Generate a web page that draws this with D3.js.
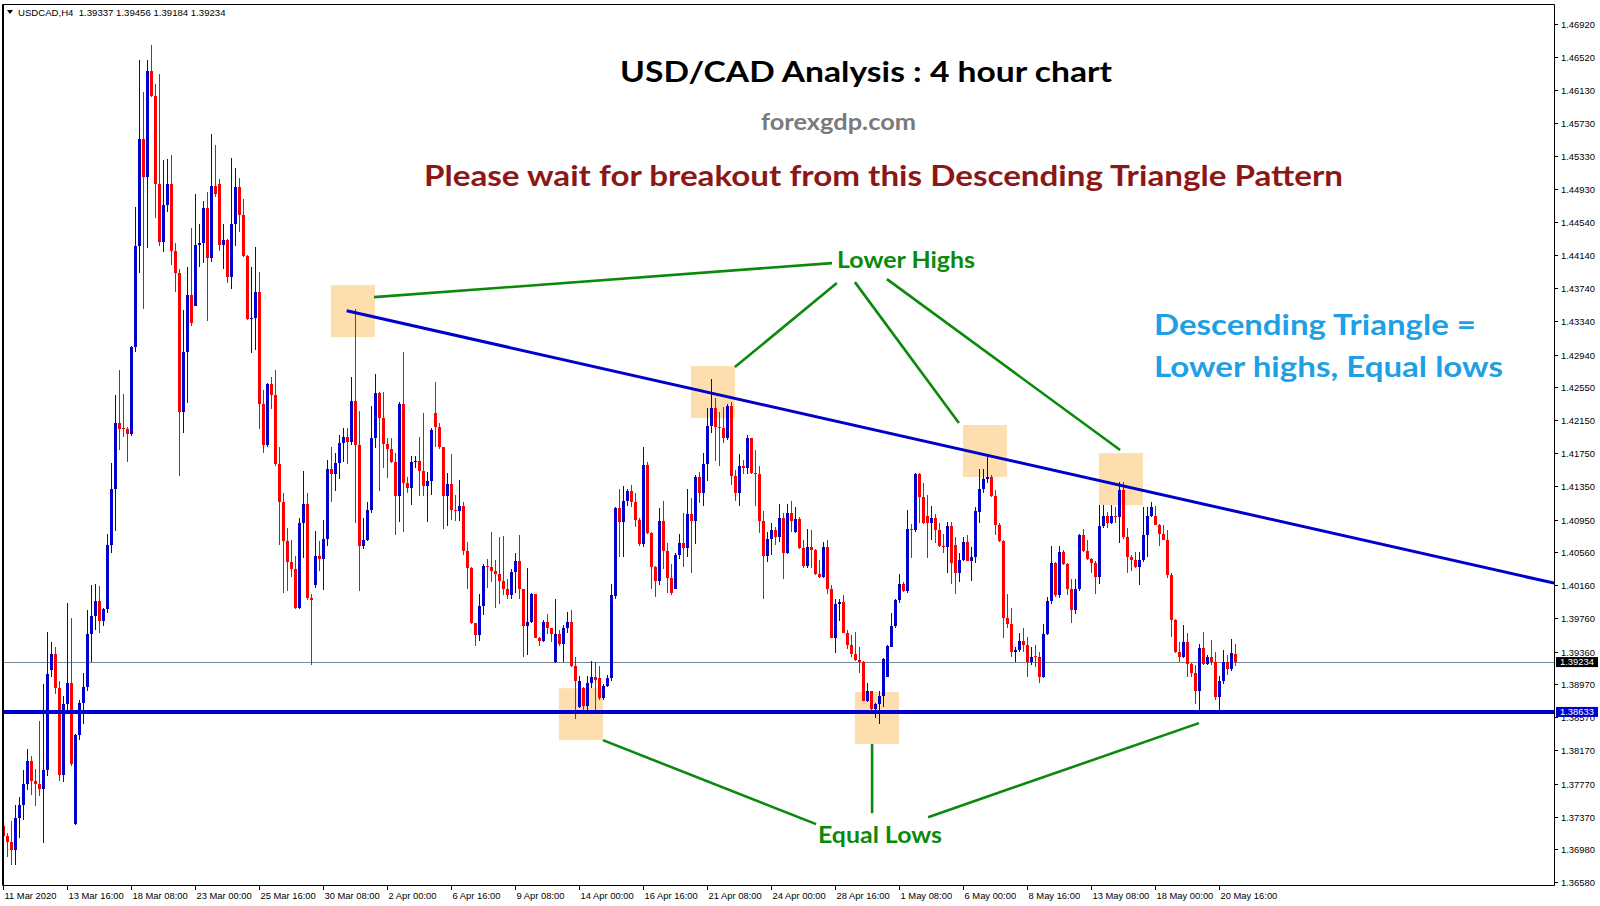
<!DOCTYPE html>
<html><head><meta charset="utf-8">
<script src="https://cdnjs.cloudflare.com/ajax/libs/d3/7.8.5/d3.min.js"></script>
<style>body{margin:0;background:#fff}svg{display:block}</style>
</head><body><svg id="c" width="1600" height="906"></svg>
<script>
// ---------- DATA (USDCAD H4, 11 Mar 2020 00:00 onward, one value per 4h bar) ----------
const symbolInfo = "USDCAD,H4";
const opens = [
1.3726,1.3714,1.3706,1.3697,1.3736,1.3751,1.3777,1.3804,1.3780,1.3776,
1.3770,1.3793,1.3914,1.3933,1.3892,1.3787,1.3873,1.3898,1.3728,1.3836,
1.3874,1.3893,1.3957,1.3979,1.3997,1.3973,1.3987,1.4064,1.4132,1.4211,
1.4206,1.4204,1.4198,1.4303,1.4425,1.4554,1.4508,1.4636,1.4605,1.4500,
1.4430,1.4474,1.4499,1.4419,1.4392,1.4225,1.4297,1.4366,1.4353,1.4426,
1.4428,1.4471,1.4410,1.4497,1.4500,1.4426,1.4432,1.4388,1.4451,1.4496,
1.4462,1.4413,1.4337,1.4338,1.4369,1.4235,1.4185,1.4259,1.4245,1.4162,
1.4116,1.4069,1.4044,1.4036,1.3988,1.4091,1.4114,1.4001,1.4016,1.4051,
1.4048,1.4072,1.4156,1.4150,1.4163,1.4188,1.4195,1.4189,1.4238,1.4185,
1.4063,1.4070,1.4107,1.4193,1.4248,1.4217,1.4186,1.4180,1.4164,1.4123,
1.4235,1.4139,1.4133,1.4164,1.4166,1.4154,1.4135,1.4142,1.4223,1.4207,
1.4182,1.4124,1.4138,1.4107,1.4106,1.4112,1.4057,1.4037,1.3970,1.3956,
1.3991,1.4039,1.4038,1.4033,1.4029,1.4021,1.4011,1.4004,1.4032,1.4045,
1.4011,1.3967,1.3972,1.4005,1.3953,1.3949,1.3972,1.3964,1.3923,1.3957,
1.3945,1.3964,1.3972,1.3919,1.3869,1.3892,1.3870,1.3898,1.3906,1.3904,
1.3880,1.3894,1.3904,1.4003,1.4109,1.4092,1.4117,1.4129,1.4116,1.4095,
1.4066,1.4161,1.4079,1.4038,1.4021,1.4093,1.4057,1.4025,1.4012,1.4053,
1.4067,1.4061,1.4102,1.4093,1.4147,1.4127,1.4162,1.4208,1.4230,1.4207,
1.4206,1.4193,1.4232,1.4148,1.4127,1.4160,1.4157,1.4193,1.4151,1.4150,
1.4093,1.4051,1.4072,1.4082,1.4074,1.4097,1.4055,1.4103,1.4080,1.4096,
1.4061,1.4039,1.4062,1.4058,1.4029,1.4026,1.4062,1.4011,1.3953,1.3993,
1.3996,1.3958,1.3944,1.3933,1.3926,1.3924,1.3876,1.3888,1.3867,1.3873,
1.3882,1.3906,1.3942,1.3967,1.3998,1.4018,1.4009,1.4084,1.4082,1.4150,
1.4122,1.4100,1.4091,1.4097,1.4082,1.4063,1.4062,1.4087,1.4064,1.4031,
1.4047,1.4068,1.4045,1.4050,1.4104,1.4132,1.4144,1.4147,1.4124,1.4089,
1.4069,1.3977,1.3969,1.3936,1.3938,1.3949,1.3944,1.3923,1.3931,1.3929,
1.3905,1.3957,1.3997,1.4043,1.4004,1.4056,1.4041,1.4011,1.3986,1.4012,
1.4076,1.4057,1.4048,1.4043,1.4026,1.4087,1.4099,1.4091,1.4100,1.4098,
1.4131,1.4074,1.4050,1.4047,1.4038,1.4047,1.4076,1.4100,1.4099,1.4089,
1.4078,1.4071,1.4028,1.3974,1.3936,1.3929,1.3948,1.3921,1.3910,1.3888,
1.3940,1.3921,1.3929,1.3924,1.3881,1.3901,1.3924,1.3915,1.39337];
const highs = [
1.3745,1.3717,1.3732,1.3751,1.3761,1.3793,1.3819,1.3810,1.3794,1.3852,
1.3897,1.3960,1.3947,1.3942,1.3901,1.3883,1.3994,1.3977,1.3837,1.3878,
1.3910,1.3986,1.4016,1.4018,1.4015,1.3988,1.4078,1.4163,1.4245,1.4275,
1.4247,1.4207,1.4304,1.4472,1.4649,1.4610,1.4649,1.4667,1.4620,1.4632,
1.4528,1.4530,1.4535,1.4429,1.4397,1.4348,1.4400,1.4446,1.4487,1.4451,
1.4479,1.4490,1.4560,1.4546,1.4505,1.4451,1.4433,1.4531,1.4519,1.4507,
1.4481,1.4414,1.4399,1.4424,1.4394,1.4251,1.4260,1.4267,1.4275,1.4182,
1.4127,1.4085,1.4070,1.4051,1.4097,1.4154,1.4127,1.4006,1.4081,1.4069,
1.4095,1.4167,1.4182,1.4175,1.4197,1.4206,1.4205,1.4267,1.4349,1.4226,
1.4097,1.4116,1.4232,1.4270,1.4249,1.4249,1.4194,1.4194,1.4175,1.4237,
1.4297,1.4147,1.4172,1.4172,1.4195,1.4224,1.4153,1.4205,1.4261,1.4211,
1.4183,1.4151,1.4174,1.4125,1.4143,1.4116,1.4068,1.4038,1.3971,1.4006,
1.4041,1.4048,1.4080,1.4047,1.4074,1.4075,1.4024,1.4036,1.4055,1.4076,
1.4012,1.4037,1.4007,1.4006,1.3954,1.3974,1.3981,1.3965,1.3999,1.3962,
1.3968,1.3984,1.3986,1.3930,1.3907,1.3893,1.3907,1.3925,1.3923,1.3919,
1.3897,1.3908,1.4017,1.4110,1.4132,1.4136,1.4132,1.4137,1.4127,1.4097,
1.4182,1.4165,1.4080,1.4039,1.4109,1.4117,1.4067,1.4041,1.4055,1.4078,
1.4103,1.4132,1.4121,1.4149,1.4152,1.4175,1.4230,1.4265,1.4242,1.4225,
1.4231,1.4234,1.4237,1.4155,1.4174,1.4167,1.4197,1.4194,1.4179,1.4160,
1.4106,1.4080,1.4091,1.4086,1.4114,1.4103,1.4114,1.4118,1.4110,1.4098,
1.4070,1.4084,1.4082,1.4060,1.4047,1.4068,1.4070,1.4016,1.4000,1.3999,
1.4004,1.3962,1.3956,1.3960,1.3942,1.3925,1.3898,1.3889,1.3874,1.3889,
1.3928,1.3944,1.3982,1.3999,1.4030,1.4020,1.4107,1.4090,1.4151,1.4151,
1.4139,1.4125,1.4111,1.4102,1.4091,1.4078,1.4092,1.4092,1.4074,1.4055,
1.4074,1.4076,1.4062,1.4110,1.4156,1.4156,1.4173,1.4149,1.4131,1.4091,
1.4070,1.4005,1.3988,1.3942,1.3958,1.3964,1.3954,1.3942,1.3944,1.3935,
1.3969,1.4002,1.4063,1.4044,1.4063,1.4058,1.4043,1.4023,1.4024,1.4078,
1.4084,1.4070,1.4049,1.4045,1.4113,1.4113,1.4104,1.4113,1.4110,1.4140,
1.4141,1.4085,1.4053,1.4056,1.4056,1.4110,1.4110,1.4116,1.4111,1.4090,
1.4088,1.4082,1.4031,1.3975,1.3948,1.3968,1.3958,1.3922,1.3920,1.3945,
1.3960,1.3932,1.3950,1.3935,1.3907,1.3938,1.3932,1.3951,1.39456];
const lows = [
1.3702,1.3688,1.3679,1.3679,1.3711,1.3733,1.3769,1.3763,1.3750,1.3762,
1.3705,1.3786,1.3906,1.3885,1.3780,1.3779,1.3862,1.3798,1.3727,1.3830,
1.3849,1.3889,1.3924,1.3962,1.3958,1.3967,1.3982,1.4055,1.4081,1.4179,
1.4195,1.4164,1.4196,1.4297,1.4392,1.4349,1.4422,1.4604,1.4459,1.4425,
1.4417,1.4466,1.4402,1.4369,1.4148,1.4199,1.4236,1.4329,1.4352,1.4399,
1.4404,1.4334,1.4405,1.4484,1.4419,1.4397,1.4380,1.4373,1.4425,1.4442,
1.4411,1.4336,1.4296,1.4299,1.4204,1.4175,1.4182,1.4228,1.4160,1.4064,
1.4007,1.4009,1.4026,1.3987,1.3987,1.4049,1.3998,1.3920,1.4013,1.4033,
1.4010,1.4063,1.4116,1.4129,1.4144,1.4164,1.4162,1.4185,1.4091,1.4009,
1.4060,1.4069,1.4103,1.4181,1.4130,1.4157,1.4145,1.4163,1.4076,1.4092,
1.4080,1.4127,1.4113,1.4157,1.4123,1.4123,1.4092,1.4125,1.4182,1.4180,
1.4084,1.4087,1.4095,1.4093,1.4094,1.4052,1.4011,1.3969,1.3943,1.3949,
1.3980,1.4013,1.4020,1.3989,1.3993,1.4004,1.3999,1.4000,1.4007,1.4000,
1.3930,1.3932,1.3970,1.3952,1.3943,1.3948,1.3957,1.3947,1.3922,1.3943,
1.3923,1.3958,1.3917,1.3855,1.3868,1.3866,1.3866,1.3892,1.3866,1.3878,
1.3878,1.3893,1.3901,1.4000,1.4050,1.4050,1.4111,1.4110,1.4086,1.4063,
1.4062,1.4078,1.4012,1.4002,1.4016,1.4036,1.4007,1.4004,1.4011,1.4048,
1.4038,1.4050,1.4031,1.4066,1.4115,1.4111,1.4142,1.4199,1.4166,1.4160,
1.4187,1.4191,1.4137,1.4118,1.4112,1.4150,1.4150,1.4150,1.4112,1.4079,
1.3999,1.4044,1.4052,1.4064,1.4068,1.4023,1.4054,1.4080,1.4079,1.4060,
1.4037,1.4037,1.4037,1.4028,1.4025,1.4025,1.4006,1.3952,1.3934,1.3973,
1.3958,1.3939,1.3930,1.3925,1.3910,1.3876,1.3875,1.3863,1.3856,1.3849,
1.3869,1.3905,1.3941,1.3964,1.3995,1.4008,1.4007,1.4049,1.4080,1.4091,
1.4090,1.4049,1.4070,1.4067,1.4062,1.4055,1.4031,1.4017,1.4006,1.4020,
1.4045,1.4045,1.4021,1.4043,1.4091,1.4127,1.4139,1.4122,1.4076,1.4068,
1.3953,1.3964,1.3930,1.3923,1.3936,1.3935,1.3906,1.3920,1.3917,1.3898,
1.3904,1.3956,1.3993,1.4002,1.4001,1.4040,1.4004,1.3970,1.3981,1.4009,
1.4056,1.4046,1.4031,1.4005,1.4018,1.4085,1.4085,1.4090,1.4091,1.4067,
1.4072,1.4031,1.4033,1.4037,1.4016,1.4044,1.4050,1.4098,1.4088,1.4063,
1.4070,1.4025,1.3954,1.3934,1.3923,1.3928,1.3905,1.3905,1.3873,1.3865,
1.3920,1.3920,1.3920,1.3878,1.3865,1.3897,1.3908,1.3913,1.39184];
const closes = [
1.3714,1.3706,1.3697,1.3736,1.3751,1.3777,1.3804,1.3780,1.3776,1.3770,
1.3793,1.3909,1.3933,1.3892,1.3787,1.3873,1.3898,1.3801,1.3836,1.3874,
1.3893,1.3957,1.3979,1.3997,1.3973,1.3987,1.4064,1.4132,1.4211,1.4204,
1.4204,1.4198,1.4303,1.4425,1.4554,1.4508,1.4636,1.4605,1.4500,1.4430,
1.4474,1.4499,1.4419,1.4392,1.4225,1.4297,1.4366,1.4332,1.4426,1.4428,
1.4471,1.4410,1.4497,1.4487,1.4426,1.4432,1.4388,1.4451,1.4496,1.4462,
1.4413,1.4337,1.4338,1.4369,1.4235,1.4185,1.4259,1.4245,1.4162,1.4116,
1.4069,1.4044,1.4036,1.3988,1.4091,1.4114,1.4001,1.3998,1.4051,1.4048,
1.4072,1.4156,1.4150,1.4163,1.4188,1.4195,1.4189,1.4238,1.4185,1.4063,
1.4070,1.4107,1.4193,1.4248,1.4217,1.4186,1.4180,1.4164,1.4123,1.4235,
1.4139,1.4133,1.4164,1.4166,1.4154,1.4135,1.4142,1.4203,1.4207,1.4182,
1.4124,1.4138,1.4107,1.4106,1.4112,1.4057,1.4037,1.3970,1.3956,1.3991,
1.4039,1.4038,1.4033,1.4029,1.4021,1.4011,1.4004,1.4032,1.4045,1.4011,
1.3967,1.3972,1.4005,1.3953,1.3949,1.3972,1.3964,1.3957,1.3957,1.3945,
1.3964,1.3972,1.3919,1.3901,1.3901,1.3870,1.3898,1.3906,1.3902,1.3880,
1.3894,1.3904,1.4004,1.4109,1.4092,1.4117,1.4129,1.4116,1.4095,1.4066,
1.4161,1.4079,1.4038,1.4021,1.4093,1.4057,1.4025,1.4007,1.4053,1.4067,
1.4061,1.4102,1.4093,1.4147,1.4127,1.4162,1.4208,1.4230,1.4207,1.4206,
1.4193,1.4232,1.4148,1.4127,1.4160,1.4157,1.4193,1.4151,1.4150,1.4093,
1.4051,1.4072,1.4082,1.4074,1.4097,1.4055,1.4103,1.4093,1.4096,1.4061,
1.4039,1.4062,1.4058,1.4029,1.4026,1.4062,1.4011,1.3953,1.3993,1.3996,
1.3958,1.3944,1.3933,1.3926,1.3924,1.3876,1.3888,1.3867,1.3873,1.3882,
1.3927,1.3943,1.3967,1.3998,1.4018,1.4009,1.4084,1.4082,1.4150,1.4122,
1.4091,1.4091,1.4097,1.4082,1.4063,1.4062,1.4087,1.4043,1.4031,1.4047,
1.4068,1.4045,1.4050,1.4105,1.4132,1.4144,1.4147,1.4124,1.4089,1.4069,
1.3977,1.3969,1.3936,1.3938,1.3949,1.3944,1.3923,1.3930,1.3929,1.3905,
1.3957,1.3997,1.4043,1.4004,1.4056,1.4041,1.4011,1.3986,1.4012,1.4076,
1.4057,1.4048,1.4043,1.4026,1.4087,1.4100,1.4091,1.4100,1.4098,1.4131,
1.4074,1.4050,1.4047,1.4038,1.4047,1.4076,1.4100,1.4110,1.4089,1.4078,
1.4071,1.4028,1.3974,1.3936,1.3929,1.3948,1.3921,1.3910,1.3888,1.3940,
1.3921,1.3929,1.3924,1.3881,1.3901,1.3924,1.3915,1.3934,1.39234];

// time-axis labels and the bar index each one sits on
const timeLabels = ["11 Mar 2020","13 Mar 16:00","18 Mar 08:00","23 Mar 00:00","25 Mar 16:00","30 Mar 08:00","2 Apr 00:00","6 Apr 16:00","9 Apr 08:00","14 Apr 00:00","16 Apr 16:00","21 Apr 08:00","24 Apr 00:00","28 Apr 16:00","1 May 08:00","6 May 00:00","8 May 16:00","13 May 08:00","18 May 00:00","20 May 16:00"];
const timeLabelBars = [0,16,32,48,64,80,96,112,128,144,160,176,192,208,224,240,256,272,288,304];
// price-axis tick labels
const priceTicks = [1.46920,1.46520,1.46130,1.45730,1.45330,1.44930,1.44540,1.44140,1.43740,1.43340,1.42940,1.42550,1.42150,1.41750,1.41350,1.40950,1.40560,1.40160,1.39760,1.39360,1.38970,1.38570,1.38170,1.37770,1.37370,1.36980,1.36580];
const supportPrice = 1.38633;
const bidPrice = 1.39234;
// descending trend line anchors [bar, price]
const trendLine = [[85.85, 1.43467], [387.7, 1.40185]];
// highlight boxes, centre [bar, price]
const highlightBoxes = [[87.4,1.43463],[177.4,1.42488],[245.4,1.41777],[279.4,1.41439],[144.4,1.38606],[218.4,1.38559]];
// annotation connector lines [[bar,price],[bar,price]]
const connectors = [
 [[92.7,1.43632],[207.2,1.44042]],
 [[182.9,1.42789],[208.4,1.43801]],
 [[238.9,1.42114],[212.9,1.43813]],
 [[279.2,1.41789],[220.9,1.43849]],
 [[149.9,1.38293],[203.2,1.37281]],
 [[217.2,1.38246],[217.2,1.37413]],
 [[231.2,1.37365],[298.9,1.38498]]];

// ---------- LAYOUT ----------
const svg = d3.select("#c");
const plot = {left:2, top:4, right:1554, bottom:885};
const BULL = "#0000cd", BEAR = "#ff0000", LINE = "#0000cd", GREEN = "#0a8a0a";
const x = d3.scaleLinear().domain([0, 388]).range([3.3, 3.3 + 4*388]);
const y = d3.scaleLinear().domain([1.36580, 1.46920]).range([882.3, 24.3]);

svg.append("rect").attr("width",1600).attr("height",906).attr("fill","#fff");
svg.append("defs").append("clipPath").attr("id","pc").append("rect")
  .attr("x",plot.left+1).attr("y",plot.top+1).attr("width",plot.right-plot.left-1).attr("height",plot.bottom-plot.top-1);
const g = svg.append("g").attr("clip-path","url(#pc)");

// highlight boxes (behind candles)
g.selectAll("rect.hb").data(highlightBoxes).join("rect").attr("class","hb")
  .attr("x",d=>x(d[0])-22).attr("y",d=>y(d[1])-26).attr("width",44).attr("height",52)
  .attr("fill","#fddeaf");

// bid line
g.append("line").attr("x1",plot.left).attr("x2",plot.right).attr("y1",Math.round(y(bidPrice))+0.5).attr("y2",Math.round(y(bidPrice))+0.5)
  .attr("stroke","#778899").attr("stroke-width",1);

// candles
const bars = d3.range(opens.length).map(i=>({i,o:opens[i],h:highs[i],l:lows[i],c:closes[i]}));
const cg = g.append("g");
bars.forEach(b=>{
  const cx = Math.round(x(b.i));
  const col = b.c >= b.o ? BULL : BEAR;
  const yh = Math.round(y(b.h)), yl = Math.round(y(b.l));
  cg.append("rect").attr("x",cx).attr("y",yh).attr("width",1).attr("height",Math.max(1,yl-yh)).attr("fill",col);
  const yt = Math.round(y(Math.max(b.o,b.c))), yb = Math.round(y(Math.min(b.o,b.c)));
  cg.append("rect").attr("x",cx-1).attr("y",yt).attr("width",3).attr("height",Math.max(1,yb-yt)).attr("fill",col);
});

// support line
g.append("line").attr("x1",plot.left).attr("x2",plot.right).attr("y1",y(supportPrice)).attr("y2",y(supportPrice))
  .attr("stroke",LINE).attr("stroke-width",4);
// trend line
g.append("line").attr("x1",x(trendLine[0][0])).attr("y1",y(trendLine[0][1]))
  .attr("x2",x(trendLine[1][0])).attr("y2",y(trendLine[1][1]))
  .attr("stroke",LINE).attr("stroke-width",3);
// connectors
g.selectAll("line.cn").data(connectors).join("line").attr("class","cn")
  .attr("x1",d=>x(d[0][0])).attr("y1",d=>y(d[0][1])).attr("x2",d=>x(d[1][0])).attr("y2",d=>y(d[1][1]))
  .attr("stroke",GREEN).attr("stroke-width",2.6);

// frame
svg.append("path").attr("d",`M${plot.left+0.5},${plot.top+0.5}H${plot.right+0.5}V${plot.bottom+0.5}H${plot.left+0.5}Z`)
  .attr("fill","none").attr("stroke","#000").attr("stroke-width",1);
svg.append("line").attr("x1",plot.left+1.5).attr("x2",plot.left+1.5).attr("y1",plot.top).attr("y2",plot.bottom).attr("stroke","#000");

// price axis
const axFont = "'Liberation Sans', Arial, sans-serif";
const pa = svg.append("g");
priceTicks.forEach(p=>{
  const yy = Math.round(y(p))+0.5;
  pa.append("line").attr("x1",plot.right+1).attr("x2",plot.right+4).attr("y1",yy).attr("y2",yy).attr("stroke","#000");
  pa.append("text").attr("x",plot.right+7).attr("y",yy+3.3).text(d3.format(".5f")(p))
    .attr("font-family",axFont).attr("font-size",9.4).attr("fill","#000");
});
function priceTag(p, bg){
  const yy = y(p);
  pa.append("rect").attr("x",plot.right+2).attr("y",yy-5).attr("width",42).attr("height",10).attr("fill",bg);
  pa.append("text").attr("x",plot.right+6).attr("y",yy+3.4).text(d3.format(".5f")(p))
    .attr("font-family",axFont).attr("font-size",9.4).attr("fill","#fff");
}
priceTag(bidPrice,"#000");
priceTag(supportPrice,LINE);

// time axis
const ta = svg.append("g");
timeLabels.forEach((t,k)=>{
  const xx = Math.round(x(timeLabelBars[k]))+0.5;
  ta.append("line").attr("x1",xx).attr("x2",xx).attr("y1",plot.bottom+1).attr("y2",plot.bottom+5).attr("stroke","#000");
  ta.append("text").attr("x",xx+1).attr("y",899).text(t)
    .attr("font-family",axFont).attr("font-size",9.4).attr("fill","#000");
});

// header
svg.append("path").attr("d","M7,10L13,10L10,14Z").attr("fill","#000");
svg.append("text").attr("x",18).attr("y",15.5)
  .text(`${symbolInfo}  ${d3.format(".5f")(opens[opens.length-1])} ${d3.format(".5f")(highs[highs.length-1])} ${d3.format(".5f")(lows[lows.length-1])} ${d3.format(".5f")(closes[closes.length-1])}`)
  .attr("font-family",axFont).attr("font-size",9.6).attr("fill","#000").attr("xml:space","preserve").style("white-space","pre");

// annotation texts
const F = "Lato, 'Open Sans', sans-serif";
function label(txt, x0, width, base, size, color){
  svg.append("text").attr("x",x0).attr("y",base).text(txt)
    .attr("font-family",F).attr("font-weight",700).attr("font-size",size).attr("fill",color)
    .attr("textLength",width).attr("lengthAdjust","spacingAndGlyphs");
}
label("USD/CAD Analysis : 4 hour chart", 620, 492, 82, 29, "#000");
label("forexgdp.com", 761, 155, 130, 22, "#7a7a7a");
label("Please wait for breakout from this Descending Triangle Pattern", 424, 919, 186, 28, "#8c1717");
label("Lower Highs", 837, 138, 268, 22.5, GREEN);
label("Equal Lows", 818, 124, 843, 22.5, GREEN);
label("Descending Triangle =", 1154, 322, 335, 28, "#1f9fe4");
label("Lower highs, Equal lows", 1154, 349, 377, 28, "#1f9fe4");
</script></body></html>
